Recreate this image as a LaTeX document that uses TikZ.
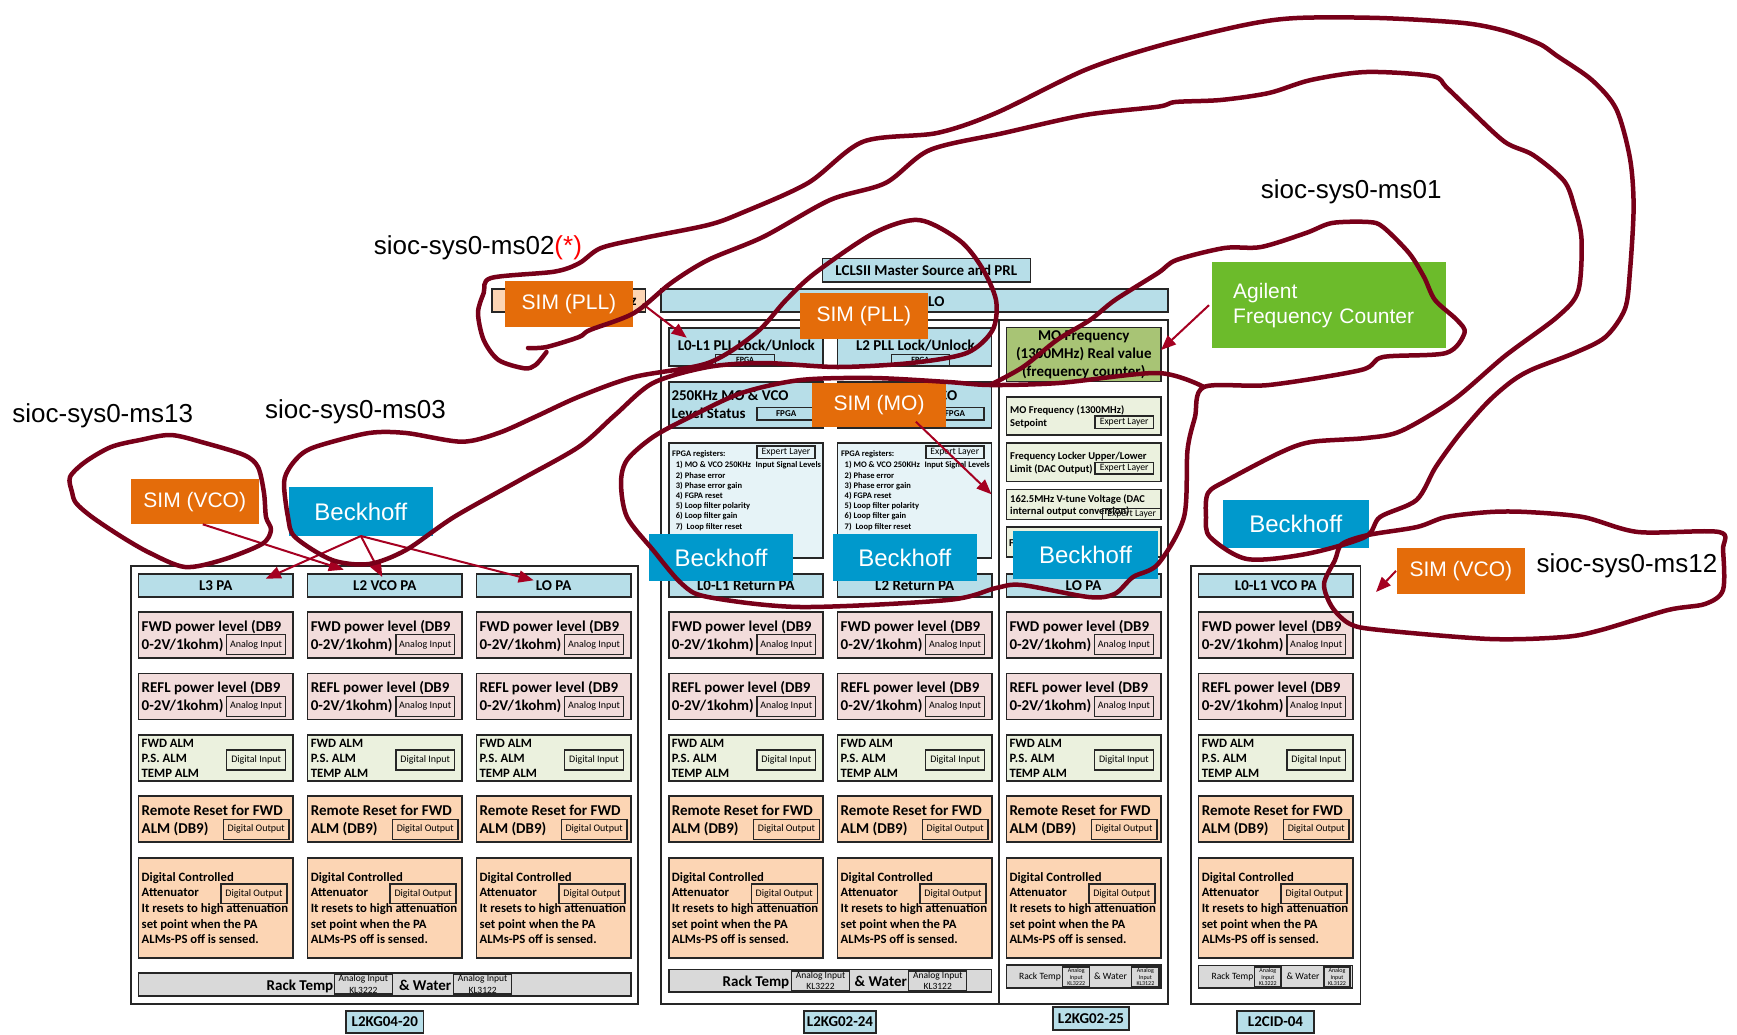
\documentclass[tikz,border=0pt]{standalone}
\usepackage{fontspec}
\setmainfont{Carlito}
\newfontfamily\arialf{Liberation Sans}
\usetikzlibrary{arrows.meta}
\definecolor{hdrc}{HTML}{B7DEE8}
\definecolor{pinkc}{HTML}{F2DCDB}
\definecolor{almc}{HTML}{EBF1DE}
\definecolor{peachc}{HTML}{FCD5B4}
\definecolor{rackc}{HTML}{D9D9D9}
\definecolor{fpgac}{HTML}{E6F3F7}
\definecolor{mogreen}{HTML}{A8C475}
\definecolor{simc}{HTML}{E46C0A}
\definecolor{beckc}{HTML}{0099CC}
\definecolor{agc}{HTML}{6CBB2B}
\definecolor{loopc}{RGB}{120,0,25}
\definecolor{arrc}{RGB}{165,0,33}
\definecolor{edgec}{HTML}{262626}
\newcommand\fs[1]{\fontsize{#1}{#1}\selectfont}
\tikzset{
 bx/.style={draw=edgec, line width=1.6pt, inner sep=0pt, outer sep=0pt},
 hdr/.style={bx, fill=hdrc, minimum width=154.5pt, minimum height=23.3pt, font=\bfseries\fs{15}},
 rowb/.style={bx, minimum width=154.5pt, minimum height=46pt},
 sb/.style={draw=edgec, line width=1.4pt, inner sep=0pt, minimum height=20pt, font=\fs{10}},
 t15/.style={anchor=base west, yshift=-5pt, inner sep=0pt, font=\bfseries\fs{15}},
 t13/.style={anchor=base west, yshift=-4.2pt, inner sep=0pt, font=\bfseries\fs{12.7}},
 t11/.style={anchor=base west, yshift=-3.5pt, inner sep=0pt, font=\bfseries\fs{10.5}},
 t9/.style={anchor=base west, yshift=-3.2pt, inner sep=0pt, font=\fs{9.6}},
 tf/.style={anchor=base west, yshift=-2.8pt, inner sep=0pt, font=\bfseries\fs{8.5}},
 simb/.style={draw=none, fill=simc, text=white, font=\arialf\fs{21}},
 beckb/.style={draw=none, fill=beckc, text=white, font=\arialf\fs{24}},
 lab/.style={anchor=base west, yshift=-7.5pt, inner sep=0pt, font=\arialf\fs{26}},
 redarr/.style={draw=arrc, line width=2pt, -{Triangle[length=15pt,width=12pt]}},
 handloop/.style={draw=loopc, line width=4.5pt, line cap=round, line join=round},
}
% box by corners
\newcommand\bn[7][]{\node[bx,#1,minimum width={(#5)-(#3)},minimum height={(#6)-(#4)}] (#2) at ({((#3)+(#5))/2},{((#4)+(#6))/2}) {#7};}
% one PA column
\newcommand\pacol[3]{%
\node[hdr] (#2-h) at ({#1+77.25},585.35) {#3};
\node[rowb, fill=pinkc] (#2-f) at ({#1+77.25},635) {};
\node[t15] (#2-f1) at ({#1+3},626.3) {FWD power level (DB9};
\node[t15] (#2-f2) at ({#1+3},644.3) {0-2V/1kohm)};
\node[sb, minimum width=58.8pt] (#2-fa) at ({#1+117.6},644.7) {Analog Input};
\node[rowb, fill=pinkc] (#2-r) at ({#1+77.25},696.3) {};
\node[t15] (#2-r1) at ({#1+3},687.3) {REFL power level (DB9};
\node[t15] (#2-r2) at ({#1+3},705.3) {0-2V/1kohm)};
\node[sb, minimum width=58.8pt] (#2-ra) at ({#1+117.6},706.3) {Analog Input};
\node[rowb, fill=almc, minimum height=46.3pt] (#2-a) at ({#1+77.25},757.85) {};
\node[t13] (#2-a1) at ({#1+3},742.8) {FWD ALM};
\node[t13] (#2-a2) at ({#1+3},757.9) {P.S. ALM};
\node[t13] (#2-a3) at ({#1+3},773) {TEMP ALM};
\node[sb, minimum width=58.8pt] (#2-ad) at ({#1+117.6},760) {Digital Input};
\node[rowb, fill=peachc] (#2-m) at ({#1+77.25},819) {};
\node[t15] (#2-m1) at ({#1+3},810.3) {Remote Reset for FWD};
\node[t15] (#2-m2) at ({#1+3},828.7) {ALM (DB9)};
\node[sb, minimum width=65.6pt] (#2-md) at ({#1+117.7},829.3) {Digital Output};
\node[rowb, fill=peachc, minimum height=100pt] (#2-t) at ({#1+77.25},907.7) {};
\node[t13] (#2-t1) at ({#1+3},877) {Digital Controlled};
\node[t13] (#2-t2) at ({#1+3},892.6) {Attenuator};
\node[t13] (#2-t3) at ({#1+3},908.2) {It resets to high attenuation};
\node[t13] (#2-t4) at ({#1+3},923.8) {set point when the PA};
\node[t13] (#2-t5) at ({#1+3},939.4) {ALMs-PS off is sensed.};
\node[sb, minimum width=66pt, minimum height=19.7pt] (#2-td) at ({#1+115.5},893.85) {Digital Output};
}
% FPGA registers box
\newcommand\fpgabox[2]{%
\node[bx, fill=fpgac, minimum width=154pt, minimum height=115pt] (#2) at ({#1+77},500.2) {};
\node[bx, line width=1.4pt, minimum width=58pt, minimum height=12.3pt, font=\fs{9.7}] (#2-x) at ({#1+117.3},452.15) {Expert Layer};
\node[tf] (#2-0) at ({#1+3.3},454) {FPGA registers:};
\node[tf] (#2-1) at ({#1+7},465) {1) MO \& VCO 250KHz};
\node[tf] (#2-1b) at ({#1+86.8},465) {Input Signal Levels};
\node[tf] (#2-2) at ({#1+7},475.2) {2) Phase error};
\node[tf] (#2-3) at ({#1+7},485.4) {3) Phase error gain};
\node[tf] (#2-4) at ({#1+7},495.6) {4) FGPA reset};
\node[tf] (#2-5) at ({#1+7},505.8) {5) Loop filter polarity};
\node[tf] (#2-6) at ({#1+7},516) {6) Loop filter gain};
\node[tf] (#2-7) at ({#1+7},526.2) {7)~ Loop filter reset};
}
\begin{document}
\begin{tikzpicture}[x=1pt, y=-1pt]
\useasboundingbox (0,0) rectangle (1737,1034);
\fill[white] (0,0) rectangle (1737,1034);

% panels
\bn[line width=1.3pt]{pL}{131}{566}{638}{1004}{}
\bn[line width=1.3pt]{pM}{661}{320}{1168}{1004}{}
\bn[line width=1.3pt]{pR}{1191}{566}{1360.4}{1004}{}
\draw[line width=1.3pt, draw=edgec] (999,320) -- (999,1004);

% top bars
\bn[fill=hdrc, font=\bfseries\fs{15}]{lclsii}{822.4}{258.3}{1030.3}{281.7}{LCLSII Master Source and PRL}
\bn[fill=hdrc]{lobar}{661}{289}{1168}{312}{}
\node[t15] (lotxt) at (928,301) {LO};
\bn[fill=peachc]{pbox}{492}{289}{645.5}{312}{}
\node[t15] (ztxt) at (630.5,300.5) {z};

% PLL boxes
\bn[fill=hdrc]{pllA}{668.7}{327.7}{822.7}{366}{}
\node[t15, anchor=base] (pllAt) at (746.3,345.5) {L0-L1 PLL Lock/Unlock};
\bn[line width=1.3pt, font=\bfseries\fs{8}]{pllAf}{715.6}{354.5}{774.7}{366}{FPGA}
\bn[fill=hdrc]{pllB}{837.5}{327.7}{991.5}{366}{}
\node[t15, anchor=base] (pllBt) at (915.4,345.5) {L2 PLL Lock/Unlock};
\bn[line width=1.3pt, font=\bfseries\fs{8}]{pllBf}{891.4}{354.5}{949.4}{366}{FPGA}

% level status boxes
\bn[fill=hdrc]{lvA}{668.7}{381.7}{822.7}{427.7}{}
\node[t15] (lvA1) at (671.3,395.7) {250KHz MO \& VCO};
\node[t15] (lvA2) at (671.3,413.3) {Level Status};
\bn[line width=1.3pt, font=\bfseries\fs{9}]{lvAf}{757}{407.3}{815.3}{420}{FPGA}
\bn[fill=hdrc]{lvB}{837.5}{381.7}{991.5}{427.7}{}
\node[t15] (lvB1) at (840.1,395.7) {250KHz MO \& VCO};
\node[t15] (lvB2) at (840.1,413.3) {Level Status};
\bn[line width=1.3pt, font=\bfseries\fs{9}]{lvBf}{925.8}{407.3}{984}{420}{FPGA}

% FPGA registers
\fpgabox{668.7}{fpA}
\fpgabox{837.5}{fpB}

% column C upper
\bn[fill=mogreen, font=\bfseries\fontsize{15}{17.8}\selectfont, align=center]{mofreq}{1006.5}{327.5}{1161}{381.5}{MO Frequency\\(1300MHz) Real value\\(frequency counter)}
\bn[fill=almc]{setp}{1006.5}{396.7}{1161}{435}{}
\node[t11] (setp1) at (1010,410) {MO Frequency (1300MHz)};
\node[t11] (setp2) at (1010,422.7) {Setpoint};
\bn[line width=1.3pt, font=\fs{9.7}]{setpx}{1095}{416}{1153.3}{428.3}{Expert Layer}
\bn[fill=almc]{lock}{1006.5}{442.7}{1161}{481.5}{}
\node[t11] (lock1) at (1010,455.5) {Frequency Locker Upper/Lower};
\node[t11] (lock2) at (1010,468.5) {Limit (DAC Output)};
\bn[line width=1.3pt, font=\fs{9.7}]{lockx}{1095}{462.7}{1153.3}{474}{Expert Layer}
\bn[fill=almc]{vt}{1006.5}{489.3}{1161}{519.3}{}
\node[t11] (vt1) at (1010,499.3) {162.5MHz V-tune Voltage (DAC};
\node[t11] (vt2) at (1010,511) {internal output conversion)};
\bn[line width=1.3pt, font=\fs{9.7}]{vtx}{1102.7}{508.3}{1160.7}{519.3}{Expert Layer}
\bn[fill=almc]{hid}{1006.5}{527}{1161}{557}{}
\node[t11] (hidt) at (1009,543) {F};

% PA columns
\pacol{138.5}{c1}{L3 PA}
\pacol{307.6}{c2}{L2 VCO PA}
\pacol{476.4}{c3}{LO PA}
\pacol{668.7}{c4}{L0-L1 Return PA}
\pacol{837.5}{c5}{L2 Return PA}
\pacol{1006.3}{c6}{LO PA}
\pacol{1198.6}{c7}{L0-L1 VCO PA}

% rack rows
\bn[fill=rackc]{rk1}{138.5}{972.7}{630.7}{996}{}
\node[t15, anchor=base east] (rk1a) at (333.5,985.3) {Rack Temp};
\bn[line width=1.3pt, font=\fontsize{9.5}{11.6}\selectfont, align=center]{rk1b}{334.6}{974}{392.2}{994}{Analog Input\\KL3222}
\node[t15] (rk1c) at (398.8,985.3) {\& Water};
\bn[line width=1.3pt, font=\fontsize{9.5}{11.6}\selectfont, align=center]{rk1d}{453.8}{974}{511.5}{994}{Analog Input\\KL3122}

\bn[fill=rackc]{rk2}{668.7}{969.3}{991.5}{992}{}
\node[t15, anchor=base east] (rk2a) at (789.5,981) {Rack Temp};
\bn[line width=1.3pt, font=\fontsize{9.5}{11.6}\selectfont, align=center]{rk2b}{791.3}{971}{849.7}{990.3}{Analog Input\\KL3222}
\node[t15] (rk2c) at (854.5,981) {\& Water};
\bn[line width=1.3pt, font=\fontsize{9.5}{11.6}\selectfont, align=center]{rk2d}{908.8}{971}{966.7}{990.3}{Analog Input\\KL3122}

\bn[fill=rackc]{rk3}{1006.3}{965}{1160.8}{988}{}
\node[t9, anchor=base east] (rk3a) at (1061,976.3) {Rack Temp};
\bn[line width=1.3pt, font=\fontsize{6}{6.6}\selectfont, align=center]{rk3b}{1062.7}{967}{1089.7}{987}{Analog\\Input\\KL3222}
\node[t9] (rk3c) at (1094,976.3) {\& Water};
\bn[line width=1.3pt, font=\fontsize{6}{6.6}\selectfont, align=center]{rk3d}{1131.8}{967}{1159}{987}{Analog\\Input\\KL3122}

\bn[fill=rackc]{rk4}{1198.6}{965.3}{1352.6}{988}{}
\node[t9, anchor=base east] (rk4a) at (1253.5,976.5) {Rack Temp};
\bn[line width=1.3pt, font=\fontsize{6}{6.6}\selectfont, align=center]{rk4b}{1254.7}{967}{1281}{987}{Analog\\Input\\KL3222}
\node[t9] (rk4c) at (1286.5,976.5) {\& Water};
\bn[line width=1.3pt, font=\fontsize{6}{6.6}\selectfont, align=center]{rk4d}{1324}{967}{1350}{987}{Analog\\Input\\KL3122}

% bottom labels
\bn[fill=hdrc, font=\bfseries\fs{15}]{lab1}{346}{1011}{423.6}{1033}{L2KG04-20}
\bn[fill=hdrc, font=\bfseries\fs{15}]{lab2}{804}{1011}{876}{1033}{L2KG02-24}
\bn[fill=hdrc, font=\bfseries\fs{15}]{lab3}{1052.8}{1007}{1129.2}{1030}{L2KG02-25}
\bn[fill=hdrc, font=\bfseries\fs{15}]{lab4}{1237}{1011}{1314}{1033}{L2CID-04}

% SIM / Beckhoff / Agilent
\bn[simb]{simvcoL}{131}{479}{258.5}{524.3}{SIM (VCO)}
\bn[beckb]{beckL}{289}{487}{432.8}{536}{Beckhoff}
\bn[simb]{simpll1}{505}{281}{632.9}{326.7}{SIM (PLL)}
\bn[simb]{simpll2}{799.8}{293.3}{928}{339}{SIM (PLL)}
\bn[simb]{simmo}{812.4}{383.3}{945.7}{426.7}{SIM (MO)}
\bn[beckb]{beckM1}{649}{533.7}{793}{581.3}{Beckhoff}
\bn[beckb]{beckM2}{833}{533.7}{976.7}{581.3}{Beckhoff}
\bn[beckb]{beckM3}{1013}{531}{1158}{578.7}{Beckhoff}
\bn[beckb]{beckR}{1223}{500}{1368.5}{548}{Beckhoff}
\bn[simb]{simvcoR}{1397}{548}{1524.7}{593.7}{SIM (VCO)}
\bn[draw=none, fill=agc, text=white, font=\arialf\fontsize{21}{25}\selectfont, align=left, text width=192pt]{agil}{1212}{262}{1446.4}{348.3}{Agilent\\Frequency Counter}

% labels
\node[lab] (ms02) at (373.7,247.3) {sioc-sys0-ms02\textcolor{red}{(*)}};
\node[lab] (ms13) at (12.2,415) {sioc-sys0-ms13};
\node[lab] (ms03) at (265,410.6) {sioc-sys0-ms03};
\node[lab] (ms01) at (1260.7,191) {sioc-sys0-ms01};
\node[lab] (ms12) at (1536.5,564.5) {sioc-sys0-ms12};

% arrows
\draw[redarr] ([xshift=8pt]simvcoL.south) -- ([xshift=-41pt,yshift=4pt]c2-h.north);
\draw[redarr] (beckL.south) -- ([xshift=50pt,yshift=-5pt]c1-h.north);
\draw[redarr] (beckL.south) -- ([xshift=-2.6pt,yshift=-3.3pt]c2-h.north);
\draw[redarr] (beckL.south) -- ([xshift=-20pt,yshift=-6.6pt]c3-h.north);
\draw[redarr] ([xshift=9.6pt]simpll1.east) -- ([xshift=-59pt,yshift=-10pt]pllA.north);
\draw[redarr] ([xshift=36.8pt,yshift=5pt]simmo.south) -- ([yshift=5.9pt]fpB.east);
\draw[redarr] ([xshift=-3pt]agil.west) -- ([yshift=4.5pt]mofreq.east);
\coordinate (vcoRtip) at (1376,592);
\draw[redarr] ([xshift=-1pt]simvcoR.west) -- (vcoRtip);

% hand-drawn loops
% ms13
\draw[handloop] plot[smooth cycle, tension=0.5] coordinates {(171,435) (140,440) (111,447) (85,462) (70,477) (72,492) (76,503) (92,517) (122,537) (150,553) (185,567) (222,560) (262,544) (271,530) (266,517) (264,493) (258,467) (244,455) (205,443)};
% ms03
\draw[handloop] plot[smooth cycle, tension=0.5] coordinates {(288,517) (284,483) (290,467) (302.8,453) (321,445) (369,433) (406,433) (461.6,441.7) (498.5,433) (535.5,416.7) (579,396.7) (634,377) (708,363) (756,333) (786,300) (815,273) (874,233) (918.7,220) (959,240) (981.5,267) (996,300) (992.6,330) (966.7,353) (911,363) (837.5,367) (763.6,363) (708,367) (653,383) (615,415) (579,446.7) (520,480) (454,517) (406,550) (369,564) (332,560) (295,537)};
% ms02
\draw[handloop] plot[smooth, tension=0.5] coordinates {(528,348) (546.5,347) (579,337) (590,330) (634,313) (671,283) (708,260) (763.6,236.7) (830,200) (885.5,183) (929.8,150) (1003.7,133) (1085,115) (1158,106.7) (1175.4,102) (1220.5,100) (1268.9,93) (1310.8,80) (1366.3,72) (1432.2,76) (1446.1,87) (1470.1,110) (1504.9,142) (1533.1,155) (1564.1,181) (1574.4,207) (1581.5,239) (1578.2,291) (1557.2,317) (1504.9,356) (1453.2,400) (1401,431) (1366.3,438) (1310.8,442) (1279.3,453) (1227.6,480) (1208,493) (1206,517) (1210,537) (1247,559) (1306,554) (1365,537) (1380,517) (1416.5,500) (1435.7,467) (1459.7,434) (1487.8,402) (1512.1,381) (1533.1,369) (1574.4,353) (1605.4,337) (1624.9,309) (1629.9,272) (1633.6,207) (1629.9,158) (1616.2,109) (1591.9,80) (1557.2,56) (1539.6,44) (1504.9,31) (1463.5,23) (1379.8,18) (1296.8,18) (1244.5,25) (1158,46) (1085,70) (996,113) (937,133) (863,141.7) (808,183) (741.5,213) (708,225) (643.6,238) (601,248) (579,263.3) (554,271.7) (491,278) (483.7,293) (478,313) (483.7,340) (498.5,360) (524.4,368.3) (535.5,365) (546.5,352)};
% ms01
\draw[handloop] plot[smooth, tension=0.5] coordinates {(990,385) (1023,367) (1057,340) (1090,320) (1115,300) (1158,273) (1176.5,260) (1224.5,248) (1261,247) (1306,233) (1332,223) (1368.5,222) (1383,227) (1409,253) (1424,277) (1435,300) (1457,320) (1464.5,333) (1446,353) (1383,357) (1361,370) (1269,385) (1204,387) (1195,417) (1187.5,450) (1184,517) (1158,564) (1133,577) (1114.5,594) (1088.6,597) (1022,585) (996,588) (948,600) (800.6,607) (708,597) (682,584) (653,550) (627,517) (621,483) (627,460) (653,437) (690,417) (741.5,393) (800.6,380) (873,378) (948,382) (990,385) (1059,383) (1158,373) (1204,387)};
% ms12
\draw[handloop] plot[smooth cycle, tension=0.5] coordinates {(1342,544) (1368,535) (1417,527) (1446,517) (1490,512) (1527,512) (1583,517) (1638,532) (1719,532) (1723,550) (1723,590) (1705,604) (1668,610) (1601,630) (1564,637) (1490,639) (1380,630) (1350,624) (1332,607) (1324,584) (1335,560)};
\end{tikzpicture}
\end{document}
